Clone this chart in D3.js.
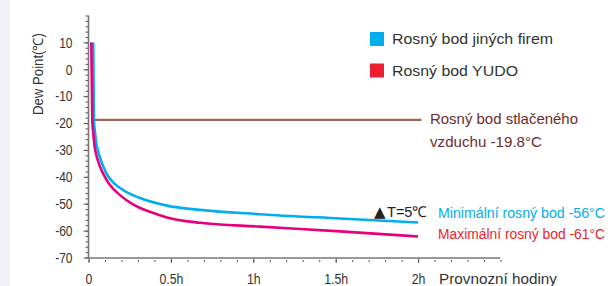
<!DOCTYPE html>
<html><head><meta charset="utf-8">
<script src="https://cdn.jsdelivr.net/npm/d3@7"></script>
<style>body{margin:0;background:#fff;overflow:hidden}text{font-family:"Liberation Sans",Arial,sans-serif}</style>
</head><body><svg id="c" width="608" height="286"></svg>
<script>
const xTicks = [0, 0.5, 1, 1.5, 2];
const xTickLabels = ["0", "0.5h", "1h", "1.5h", "2h"];
const yTicks = [10, 0, -10, -20, -30, -40, -50, -60, -70];
const otherT = [0.029, 0.033, 0.039, 0.047, 0.058, 0.073, 0.091, 0.118, 0.161, 0.221, 0.313, 0.476, 0.676, 1.04, 1.526, 2.0];
const otherV = [10, -19, -23.3, -27.4, -30.4, -33.4, -36.3, -39.7, -42.7, -45.3, -47.9, -50.7, -52.3, -53.9, -55.5, -57.0];
const yudoT = [0.017, 0.023, 0.029, 0.036, 0.046, 0.058, 0.073, 0.1, 0.13, 0.191, 0.27, 0.373, 0.476, 0.676, 1.04, 1.526, 2.0];
const yudoV = [10, -19, -23.7, -28.2, -31.5, -34.1, -36.7, -40.1, -43.0, -46.8, -50.2, -53.0, -55.1, -57.1, -58.5, -60.3, -62.2];
const compressedLineLevel = -18.8;
const legendLabels = ["Rosný bod jiných firem", "Rosný bod YUDO"];

const svg = d3.select("#c");
svg.append("rect").attr("x",0).attr("y",0).attr("width",10).attr("height",286).attr("fill","#eff1f4");

const x = d3.scaleLinear().domain([0, 2.5]).range([88.5, 500.5]);
const y = d3.scaleLinear().domain([-70, 20]).range([257.5, 15.5]);
const axisCol = "#777";

function squeeze(sel, len){ sel.attr("textLength", len).attr("lengthAdjust","spacingAndGlyphs"); }

// Y axis minor ticks
const gyMin = svg.append("g").attr("transform","translate(88.5,0)")
  .call(d3.axisLeft(y).tickValues(d3.range(20,-71,-2)).tickSize(3).tickFormat(""));
gyMin.select(".domain").remove();
gyMin.selectAll("line").attr("stroke","#555").attr("stroke-width",1);
// Y axis major ticks
const gy = svg.append("g").attr("transform","translate(88.5,0)")
  .call(d3.axisLeft(y).tickValues(yTicks).tickSize(5).tickPadding(11).tickFormat(d=>String(d)));
gy.select(".domain").remove();
gy.selectAll("line").attr("stroke","#555").attr("stroke-width",1);
gy.selectAll("text").attr("font-size",15).attr("fill","#333")
  .attr("font-family","Liberation Sans, Arial, sans-serif")
  .each(function(){ const t=d3.select(this); squeeze(t, this.getComputedTextLength()*0.8); });

// X axis minor ticks
const gxMin = svg.append("g").attr("transform","translate(0,258)")
  .call(d3.axisBottom(x).tickValues(d3.range(0,2.51,0.1)).tickSize(3).tickFormat(""));
gxMin.select(".domain").remove();
gxMin.selectAll("line").attr("stroke","#555").attr("stroke-width",1).attr("y1",2).attr("y2",4);
const gx = svg.append("g").attr("transform","translate(0,258)")
  .call(d3.axisBottom(x).tickValues(xTicks).tickSize(5).tickPadding(12).tickFormat((d,i)=>xTickLabels[i]));
gx.select(".domain").remove();
gx.selectAll("line").attr("stroke","#555").attr("stroke-width",1);
gx.selectAll("text").attr("font-size",15).attr("fill","#333").attr("dy",null).attr("y",283.5-258)
  .attr("font-family","Liberation Sans, Arial, sans-serif")
  .each(function(){ const t=d3.select(this); squeeze(t, this.getComputedTextLength()*0.82); });

// domain lines
svg.append("line").attr("x1",x(0)).attr("x2",x(0)).attr("y1",y(20)).attr("y2",258.2).attr("stroke",axisCol).attr("stroke-width",1.6);
svg.append("line").attr("x1",x(0)-0.8).attr("x2",x(2.5)).attr("y1",258).attr("y2",258).attr("stroke",axisCol).attr("stroke-width",1.6);

// compressed air dew line
svg.append("line").attr("x1",x(0.015)).attr("x2",x(2.02)).attr("y1",y(compressedLineLevel)).attr("y2",y(compressedLineLevel))
  .attr("stroke","#9a6a4a").attr("stroke-width",2.4);

const line = d3.line().x(d=>x(d[0])).y(d=>y(d[1])).curve(d3.curveMonotoneX);
svg.append("path").datum(otherT.map((t,i)=>[t,otherV[i]])).attr("d",line)
  .attr("fill","none").attr("stroke","#00aeef").attr("stroke-width",2.6);
svg.append("path").datum(yudoT.map((t,i)=>[t,yudoV[i]])).attr("d",line)
  .attr("fill","none").attr("stroke","#e4007f").attr("stroke-width",2.6);

// Legend
const legCols = ["#00aeef", "#ed1c2e"];
const legY = [39, 70.5];
const legLen = [161, 126];
legendLabels.forEach((lab,i)=>{
  svg.append("rect").attr("x",370).attr("y",legY[i]-7).attr("width",14).attr("height",14).attr("fill",legCols[i]);
  const t = svg.append("text").attr("x",392).attr("y",legY[i]+5).attr("font-size",15).attr("fill","#333").text(lab);
  squeeze(t, legLen[i]);
});

// annotations
const ann = [
  {t:"Rosný bod stlačeného", x:430, y:124, len:148, c:"#6b2d2b", fs:15},
  {t:"vzduchu -19.8°C", x:430, y:146.5, len:112, c:"#6b2d2b", fs:15},
  {t:"Minimální rosný bod -56°C", x:438, y:218, len:167, c:"#00aeef", fs:14},
  {t:"Maximální rosný bod -61°C", x:438, y:238.5, len:167, c:"#ed1c2e", fs:14},
  {t:"Provnozní hodiny", x:439, y:283.5, len:118, c:"#333", fs:15}
];
ann.forEach(a=>{
  const t = svg.append("text").attr("x",a.x).attr("y",a.y).attr("font-size",a.fs).attr("fill",a.c).text(a.t);
  squeeze(t, a.len);
});
// ΔT note
const dt = svg.append("text").attr("x",374).attr("y",217).attr("font-size",15).attr("fill","#222");
dt.append("tspan").attr("font-family","DejaVu Sans").attr("font-size",15).text("▲");
const tn = dt.append("tspan").attr("x",387).text("T=5℃");
squeeze(tn, 40);

// Y title
const yt = svg.append("text").attr("transform","translate(43,74) rotate(-90)").attr("text-anchor","middle")
  .attr("font-size",14).attr("fill","#333").text("Dew Point(℃)");
squeeze(yt, 82);
</script></body></html>
